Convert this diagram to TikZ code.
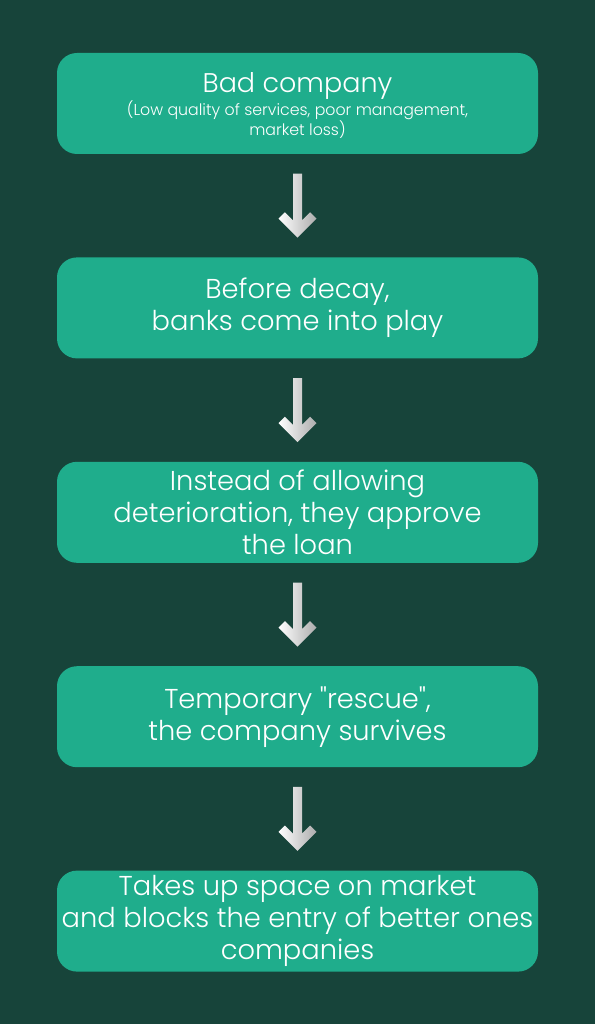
\documentclass[tikz,border=0pt]{standalone}
\usepackage{fontspec}
\setmainfont{Poppins}[Ligatures=TeXOff, UprightFont=* Light]
\usepackage{xcolor}
\usetikzlibrary{positioning}

\definecolor{bgdark}{RGB}{23,68,58}
\definecolor{boxgreen}{RGB}{31,173,140}

\newcommand{\titlesize}{\fontsize{27}{20}\selectfont}
\newcommand{\notesize}{\fontsize{15.8}{20}\selectfont}

\begin{document}
\begin{tikzpicture}[
  x=1pt, y=1pt,
  node distance=103pt,
  box/.style={fill=boxgreen, rounded corners=20pt, minimum width=481pt,
              minimum height=101pt, align=center, text=white,
              inner sep=0pt, font=\fontsize{27.3}{32}\selectfont},
  flowarrow/.pic={
    \shade[left color=white, right color=gray!65]
      (0,0) -- (-19,19) -- (-12.6,25.4) -- (-4.5,17.3) -- (-4.5,64)
      -- (4.5,64) -- (4.5,17.3) -- (12.6,25.4) -- (19,19) -- cycle;
  },
]
% page
\fill[bgdark] (0,0) rectangle (595,-1024);
\useasboundingbox (0,0) rectangle (595,-1024);

% boxes
\node[box] (bad) at (297.5,-103.5) {};
\node[align=center, text=white, inner sep=0pt, font=\titlesize]
  (badtext) at ([yshift=-2pt]bad.center)
  {Bad company\\
   \notesize (Low quality of services, poor management,\\
   \notesize market loss)};
\node[box, below=of bad]   (banks)   {Before decay,\\banks come into play};
\node[box, below=of banks] (loan)    {Instead of allowing\\deterioration, they approve\\the loan};
\node[box, below=of loan]  (rescue)  {Temporary "rescue",\\the company survives};
\node[box, below=of rescue] (blocks) {Takes up space on market\\and blocks the entry of better ones\\companies};

% arrows
\foreach \a/\b [count=\i] in {bad/banks, banks/loan, loan/rescue, rescue/blocks}{
  \path (\a.south) -- coordinate[pos=0.5] (mid\i) (\b.north);
  \pic at ([yshift=-32pt]mid\i) {flowarrow};
}
\end{tikzpicture}
\end{document}
